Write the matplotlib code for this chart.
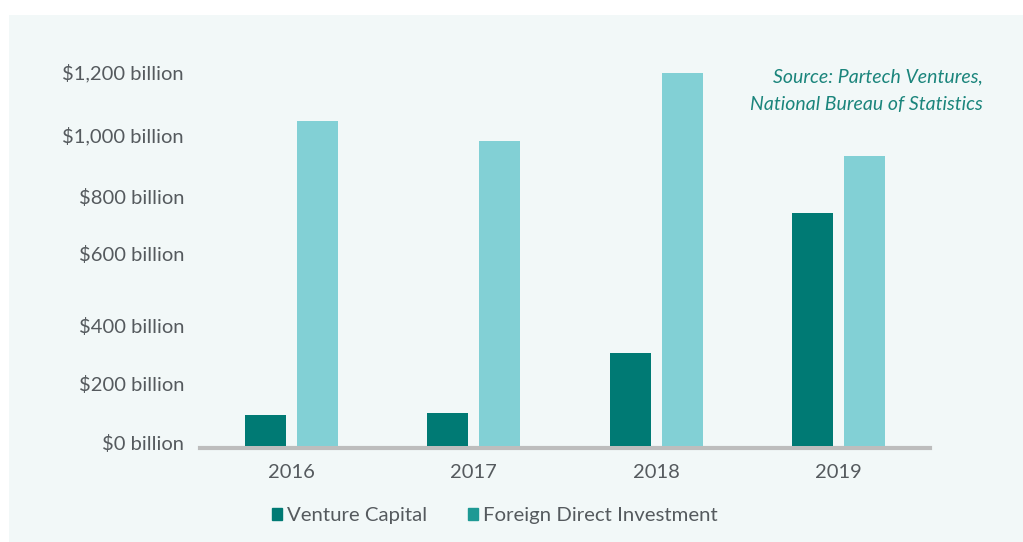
import matplotlib.pyplot as plt
from matplotlib.patches import Patch, Rectangle
import numpy as np

# data (billions of USD)
years = ["2016", "2017", "2018", "2019"]
venture_capital = [99, 106, 298, 747]
foreign_direct = [1042, 978, 1196, 930]

# tick positions as they sit in the reference
tick_vals = [10, 199, 385, 616, 799, 1000, 1200]
tick_labels = ["$0 billion", "$200 billion", "$400 billion", "$600 billion",
               "$800 billion", "$1,000 billion", "$1,200 billion"]

vc_color = "#007a74"
fdi_color = "#82d0d5"
fdi_legend = "#1e9994"
bg = "#f2f8f8"
txt = "#555a5e"

plt.rcParams['font.family'] = ['Lato', 'DejaVu Sans']

fig = plt.figure(figsize=(10.23, 5.42), dpi=100)
fig.patches.append(Rectangle((9 / 1023, 0), 1, 1 - 15 / 542, transform=fig.transFigure,
                             facecolor=bg, edgecolor="none", zorder=-5))

ax = fig.add_axes([200 / 1023, 1 - 446 / 542, 730 / 1023, 396 / 542])
ax.set_facecolor("none")

x = np.arange(len(years))
w = 0.224
off = 0.142
ax.bar(x - off, venture_capital, w, color=vc_color, zorder=3)
ax.bar(x + off, foreign_direct, w, color=fdi_color, zorder=3)

ax.set_xlim(-0.5, 3.5)
ax.set_ylim(0, 1269.6)

ax.set_yticks(tick_vals)
ax.set_yticklabels(tick_labels)
ax.set_xticks(x)
ax.set_xticklabels(years)
ax.tick_params(axis="y", length=0, pad=11.5, labelsize=14.5, labelcolor=txt)
ax.tick_params(axis="x", length=0, pad=11.5, labelsize=14.5, labelcolor=txt)

for s in ["top", "right", "left"]:
    ax.spines[s].set_visible(False)
ax.spines["bottom"].set_color("#bdbdbd")
ax.spines["bottom"].set_linewidth(3)
ax.spines["bottom"].set_position(("outward", 1.2))

fig.text(983 / 1023, 1 - 77 / 542, "Source: Partech Ventures,",
         ha="right", va="center", style="italic", fontsize=14, color="#1b857c")
fig.text(983 / 1023, 1 - 104 / 542, "National Bureau of Statistics",
         ha="right", va="center", style="italic", fontsize=14, color="#1b857c")

handles = [Patch(color=vc_color, label="Venture Capital"),
           Patch(color=fdi_legend, label="Foreign Direct Investment")]
fig.legend(handles=handles, loc="center", bbox_to_anchor=(495 / 1023, 1 - 516 / 542),
           ncol=2, frameon=False, fontsize=14.7, labelcolor=txt,
           handlelength=0.5, handleheight=0.5, handletextpad=0.25, columnspacing=2.0)

fig.savefig("out.png", dpi=100)
